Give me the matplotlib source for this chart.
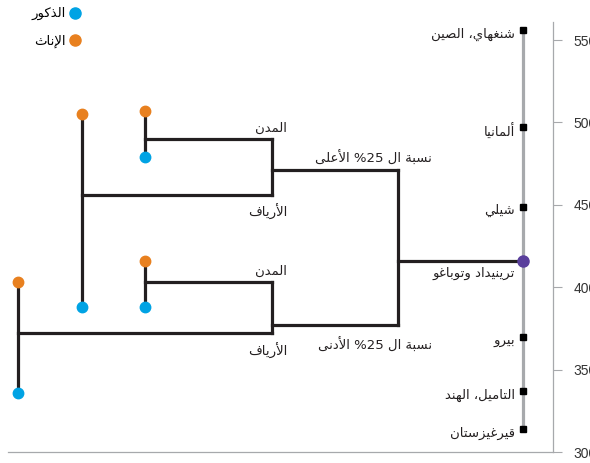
import matplotlib.pyplot as plt
from matplotlib.lines import Line2D

# PISA 2009 reading scores
countries = ['شنغهاي، الصين', 'ألمانيا', 'شيلي', 'ترينيداد وتوباغو', 'بيرو', 'التاميل، الهند', 'قيرغيزستان']
scores = [556, 497, 449, 416, 370, 337, 314]
focus = 3  # Trinidad and Tobago

# breakdown for Trinidad and Tobago: top / bottom quarter, then cities / rural, then girls / boys
quartile_labels = ['نسبة ال %25 الأعلى', 'نسبة ال %25 الأدنى']
quartile_scores = [471, 377]
area_labels = ['المدن', 'الأرياف']
area_scores = [[490, 456], [403, 372]]
female_scores = [[507, 505], [416, 403]]
male_scores = [[479, 388], [388, 336]]
legend_labels = ['الذكور', 'الإناث']
yticks = [300, 350, 400, 450, 500, 550]

# horizontal layout of the tree (pixel-ish units)
country_x = 523
quartile_x = 398
area_x = 272
gender_x = [[145, 82], [145, 18]]

BLUE = '#00a3e4'
ORANGE = '#e8801f'
PURPLE = '#5a3f9c'
INK = '#231f20'
GREY = '#a7a9ac'

# --- tiny arabic shaper (matplotlib does no shaping / bidi) ---
AR_FORMS = {
    'ء': (0xFE80, 1), 'آ': (0xFE81, 2), 'أ': (0xFE83, 2), 'ؤ': (0xFE85, 2), 'إ': (0xFE87, 2),
    'ئ': (0xFE89, 4), 'ا': (0xFE8D, 2), 'ب': (0xFE8F, 4), 'ة': (0xFE93, 2), 'ت': (0xFE95, 4),
    'ث': (0xFE99, 4), 'ج': (0xFE9D, 4), 'ح': (0xFEA1, 4), 'خ': (0xFEA5, 4), 'د': (0xFEA9, 2),
    'ذ': (0xFEAB, 2), 'ر': (0xFEAD, 2), 'ز': (0xFEAF, 2), 'س': (0xFEB1, 4), 'ش': (0xFEB5, 4),
    'ص': (0xFEB9, 4), 'ض': (0xFEBD, 4), 'ط': (0xFEC1, 4), 'ظ': (0xFEC5, 4), 'ع': (0xFEC9, 4),
    'غ': (0xFECD, 4), 'ف': (0xFED1, 4), 'ق': (0xFED5, 4), 'ك': (0xFED9, 4), 'ل': (0xFEDD, 4),
    'م': (0xFEE1, 4), 'ن': (0xFEE5, 4), 'ه': (0xFEE9, 4), 'و': (0xFEED, 2), 'ى': (0xFEEF, 2),
    'ي': (0xFEF1, 4),
}
LAM_ALEF = {'آ': 0xFEF5, 'أ': 0xFEF7, 'إ': 0xFEF9, 'ا': 0xFEFB}


def shape_word(word):
    units = []
    i = 0
    while i < len(word):
        if word[i] == 'ل' and i + 1 < len(word) and word[i + 1] in LAM_ALEF:
            units.append(('LA', word[i + 1]))
            i += 2
        else:
            units.append((word[i], None))
            i += 1
    out = []
    for k, (c, alef) in enumerate(units):
        prev = units[k - 1][0] if k > 0 else None
        nxt = units[k + 1][0] if k + 1 < len(units) else None
        joins_prev = prev in AR_FORMS and AR_FORMS[prev][1] == 4
        if c == 'LA':
            out.append(chr(LAM_ALEF[alef] + joins_prev))
            continue
        if c not in AR_FORMS:
            out.append(c)
            continue
        base, n = AR_FORMS[c]
        joins_next = n == 4 and (nxt in AR_FORMS or nxt == 'LA') and nxt != 'ء'
        if n == 1:
            form = 0
        elif n == 2:
            form = int(joins_prev)
        else:
            form = {(False, False): 0, (True, False): 1, (False, True): 2, (True, True): 3}[(joins_prev, joins_next)]
        out.append(chr(base + form))
    return ''.join(reversed(out))


def ar(text):
    words = []
    for w in text.split(' '):
        if any('\u0600' <= ch <= '\u06ff' for ch in w):
            words.append(shape_word(w))
        else:
            words.append(w)
    return ' '.join(reversed(words))


plt.rcParams['font.family'] = ['DejaVu Sans']

fig = plt.figure(figsize=(5.9, 4.63), dpi=100)
ax = fig.add_axes([8 / 590, 11 / 463, 545 / 590, 430 / 463])
ax.set_xlim(8, 553)
ax.set_ylim(300, 561)

lw = 2.3
# country scale
ax.plot([country_x, country_x], [min(scores), max(scores)], color=GREY, lw=2.3, zorder=1)
for i, (name, s) in enumerate(zip(countries, scores)):
    if i == focus:
        ax.plot(country_x, s, 'o', color=PURPLE, ms=8, zorder=4)
        ax.annotate(ar(name), (country_x, s), xytext=(-8, -13), textcoords='offset pixels',
                    ha='right', va='center', fontsize=9.5, color=INK)
    else:
        ax.plot(country_x, s, 's', color='black', ms=5, zorder=4)
        ax.annotate(ar(name), (country_x, s), xytext=(-8, -4), textcoords='offset pixels',
                    ha='right', va='center', fontsize=9.5, color=INK)

# tree
ax.plot([quartile_x, country_x], [scores[focus]] * 2, color=INK, lw=lw, zorder=2)
ax.plot([quartile_x] * 2, quartile_scores, color=INK, lw=lw, solid_capstyle='projecting')
for q in range(2):
    qs = quartile_scores[q]
    ax.plot([area_x, quartile_x], [qs, qs], color=INK, lw=lw, solid_capstyle='projecting')
    ax.plot([area_x] * 2, area_scores[q], color=INK, lw=lw, solid_capstyle='projecting')
    dy = 4 if q == 0 else -13
    ax.annotate(ar(quartile_labels[q]), (quartile_x, qs), xytext=(34, dy), textcoords='offset pixels',
                ha='right', va='bottom' if q == 0 else 'top', fontsize=9.5, color=INK)
    for a in range(2):
        s = area_scores[q][a]
        gx = gender_x[q][a]
        ax.plot([gx, area_x], [s, s], color=INK, lw=lw, solid_capstyle='projecting')
        ax.plot([gx] * 2, [female_scores[q][a], male_scores[q][a]], color=INK, lw=lw)
        ax.plot(gx, female_scores[q][a], 'o', color=ORANGE, ms=7.5, zorder=3)
        ax.plot(gx, male_scores[q][a], 'o', color=BLUE, ms=7.5, zorder=3)
        ax.annotate(ar(area_labels[a]), (area_x, s), xytext=(15, 4 if a == 0 else -9),
                    textcoords='offset pixels', ha='right', va='bottom' if a == 0 else 'top',
                    fontsize=9.5, color=INK)

# axes styling
for side in ['left', 'top']:
    ax.spines[side].set_visible(False)
ax.spines['right'].set_color(GREY)
ax.spines['bottom'].set_color(GREY)
ax.spines['right'].set_linewidth(0.9)
ax.spines['bottom'].set_linewidth(0.9)
ax.set_xticks([])
ax.yaxis.tick_right()
ax.set_yticks(yticks)
ax.tick_params(axis='y', direction='out', length=6.5, width=0.8, color=GREY, pad=8,
               labelsize=10, labelcolor='#333333')
for lab in ax.get_yticklabels():
    lab.set_family(['Liberation Sans', 'DejaVu Sans'])

handles = [Line2D([], [], marker='o', ls='', color=BLUE, ms=8),
           Line2D([], [], marker='o', ls='', color=ORANGE, ms=8)]
fig.legend(handles, [ar(t) for t in legend_labels], loc='upper left', bbox_to_anchor=(26 / 590, 1 - 2 / 463),
           markerfirst=False, frameon=False, fontsize=9.5, handletextpad=0.3, labelspacing=1.08,
           handlelength=0.8, borderaxespad=0)

fig.savefig('out.png', dpi=100)
